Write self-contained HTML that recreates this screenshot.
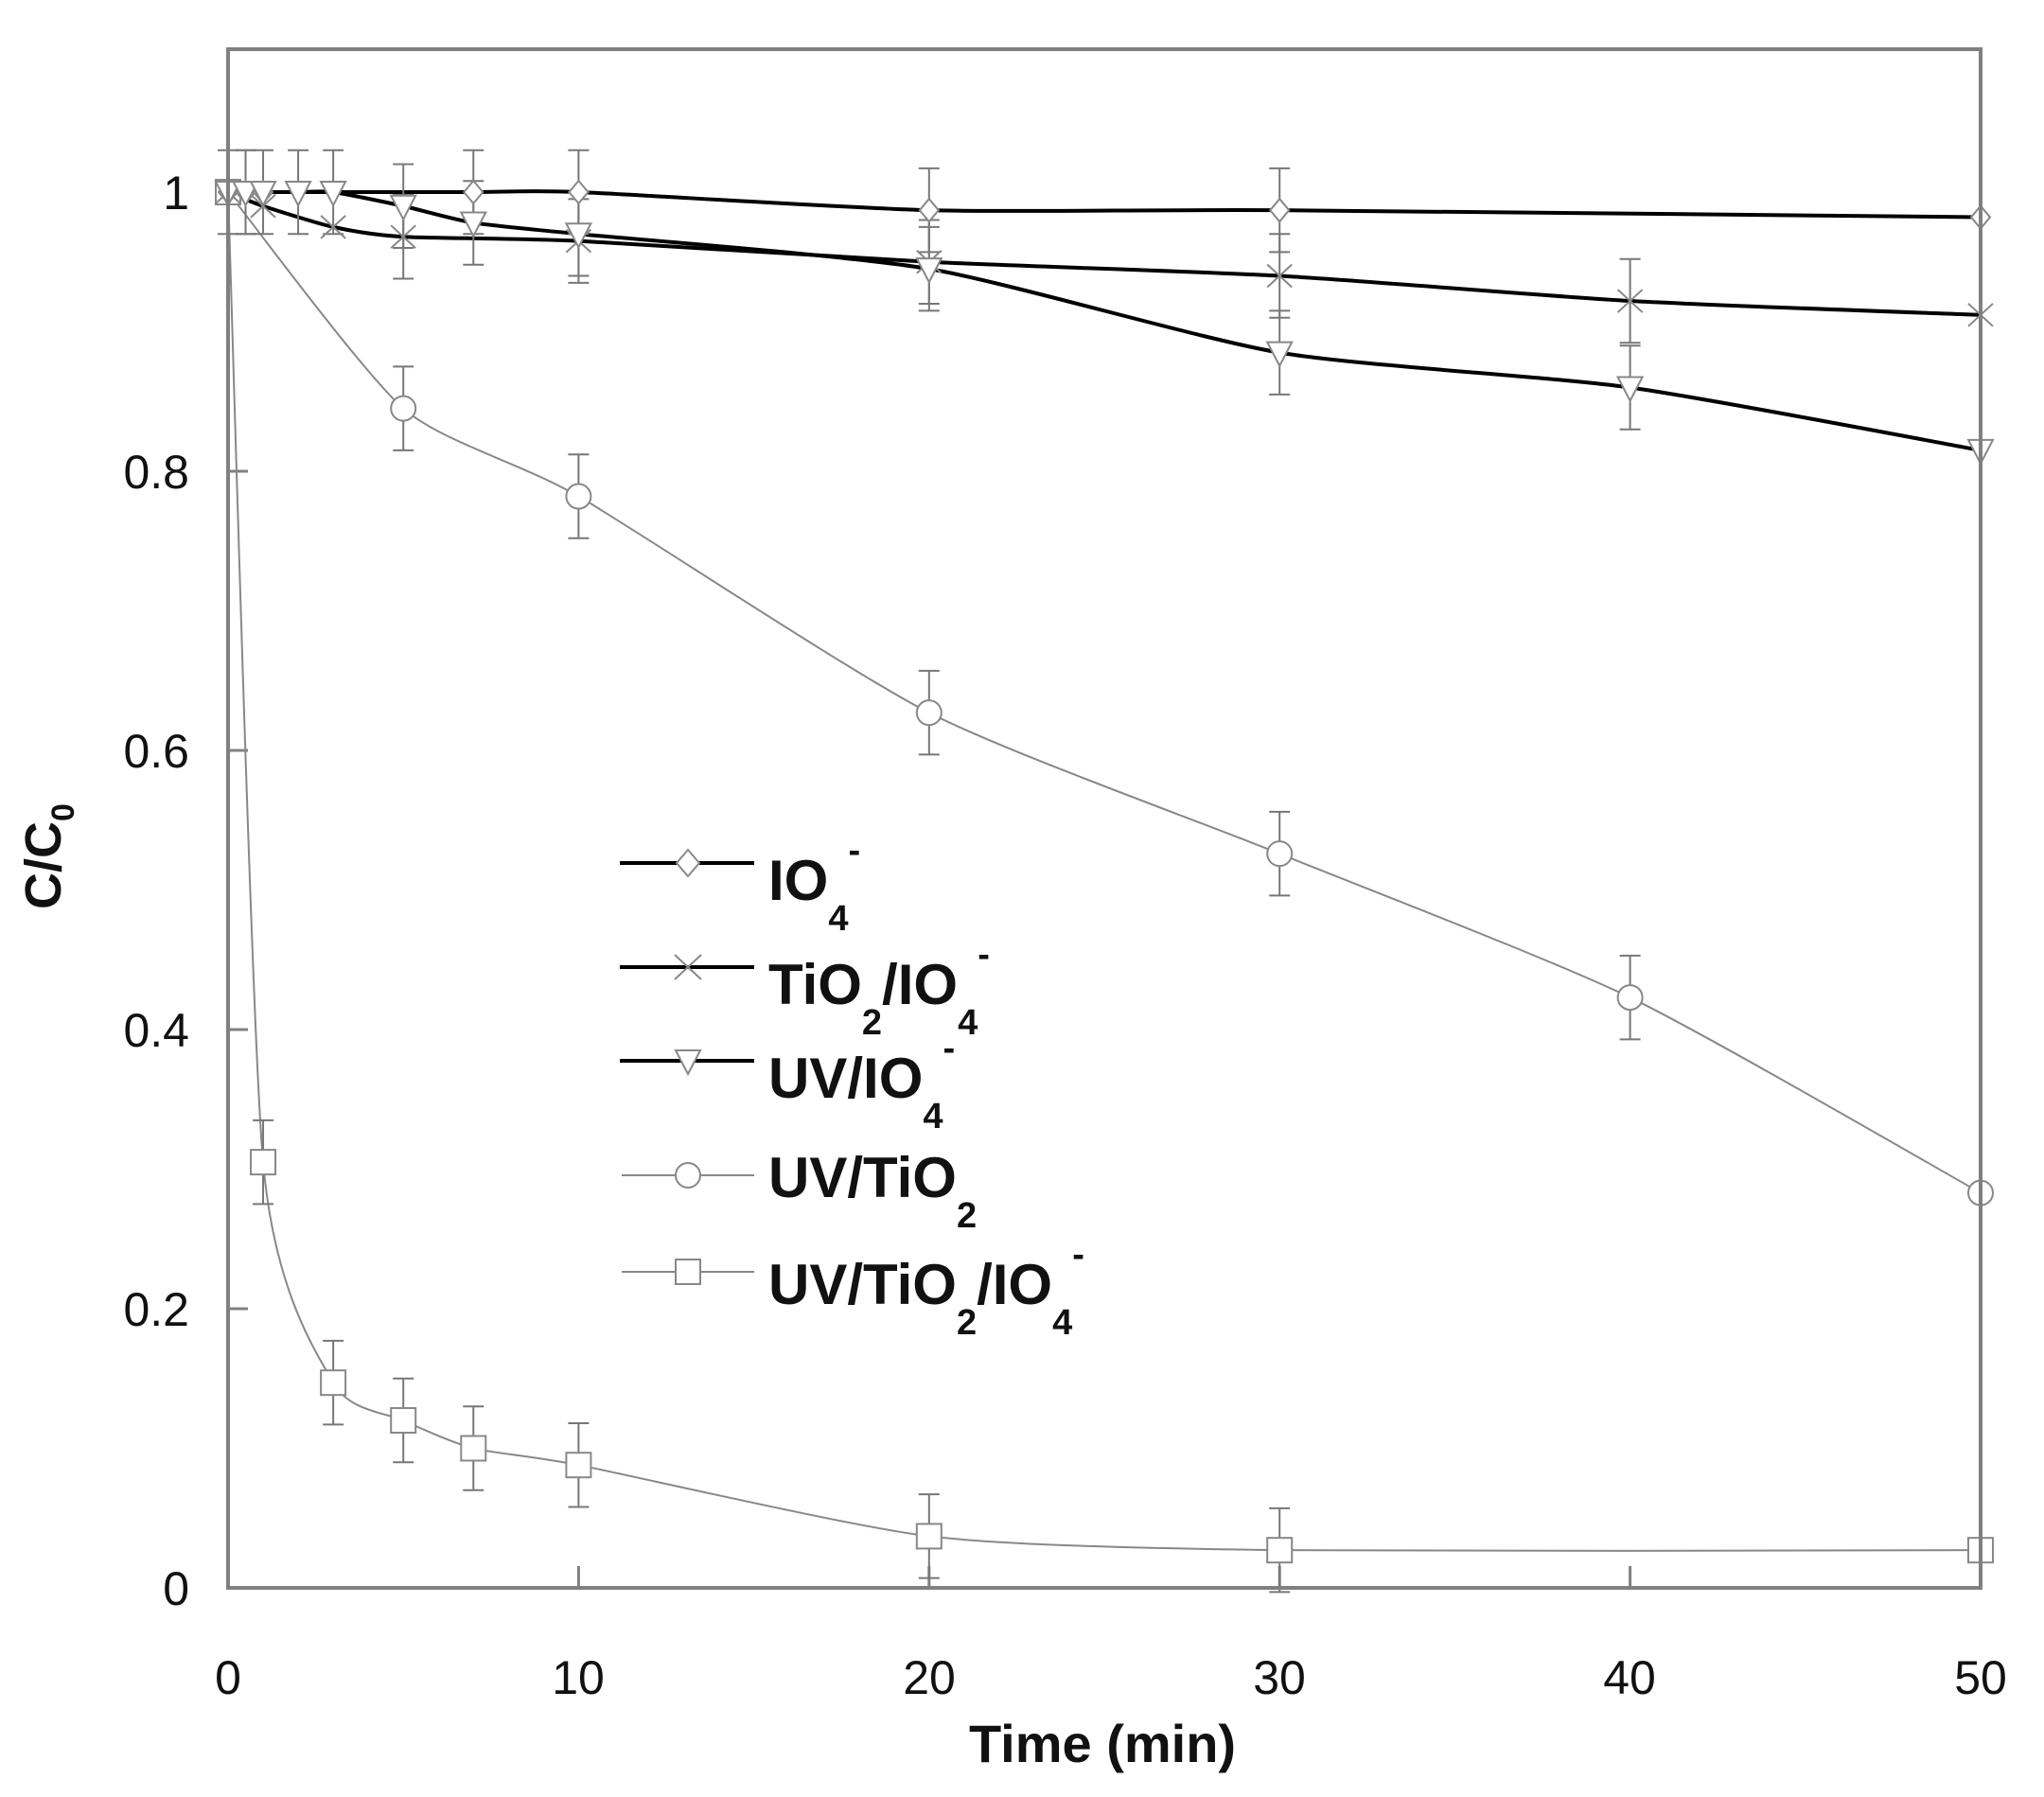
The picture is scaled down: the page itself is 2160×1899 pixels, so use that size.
<!DOCTYPE html>
<html><head><meta charset="utf-8"><style>
html,body{margin:0;padding:0;background:#fff;}
svg{display:block;}
text{font-family:"Liberation Sans",Arial,sans-serif;}
</style></head><body>
<svg id="s" width="2160" height="1899" viewBox="0 0 2160 1899" xmlns="http://www.w3.org/2000/svg">
<rect x="0" y="0" width="2160" height="1899" fill="#fff"/>
<g id="plot"></g>
<rect x="241" y="52" width="1852" height="1626" fill="none" stroke="#808080" stroke-width="4"/>
<g font-size="50" fill="#111" text-anchor="end">
<text x="200" y="1696">0</text>
<text x="200" y="1401">0.2</text>
<text x="200" y="1106">0.4</text>
<text x="200" y="811">0.6</text>
<text x="200" y="516">0.8</text>
<text x="200" y="221">1</text>
</g>
<g font-size="50" fill="#111" text-anchor="middle">
<text x="241" y="1790">0</text>
<text x="611" y="1790">10</text>
<text x="982" y="1790">20</text>
<text x="1352" y="1790">30</text>
<text x="1722" y="1790">40</text>
<text x="2093" y="1790">50</text>
</g>
<text x="1165" y="1862" font-size="56" font-weight="bold" text-anchor="middle" fill="#111">Time (min)</text>
<text transform="translate(64,905) rotate(-90)" font-size="54" font-weight="bold" text-anchor="middle" fill="#111">C/C<tspan font-size="34" dy="14">0</tspan></text>
<g font-size="60" font-weight="bold" fill="#111">
<line x1="655" y1="912" x2="797" y2="912" stroke="#000" stroke-width="4"/>
<path d="M727 898 L739 912 L727 926 L715 912 Z" fill="#fff" stroke="#888" stroke-width="2"/>
<text x="812" y="951">IO<tspan font-size="38" dy="32">4</tspan><tspan font-size="38" dy="-72">-</tspan></text>

<line x1="655" y1="1022" x2="797" y2="1022" stroke="#000" stroke-width="4"/>
<path d="M713 1009 L741 1035 M741 1009 L713 1035" stroke="#888" stroke-width="2"/>
<text x="812" y="1061">TiO<tspan font-size="38" dy="32">2</tspan><tspan dy="-32">/IO</tspan><tspan font-size="38" dy="32">4</tspan><tspan font-size="38" dy="-72">-</tspan></text>

<line x1="655" y1="1121" x2="797" y2="1121" stroke="#000" stroke-width="4"/>
<path d="M714 1110 L740 1110 L727 1135 Z" fill="#fff" stroke="#888" stroke-width="2"/>
<text x="812" y="1160">UV/IO<tspan font-size="38" dy="32">4</tspan><tspan font-size="38" dy="-72">-</tspan></text>

<line x1="657" y1="1242" x2="797" y2="1242" stroke="#888" stroke-width="2"/>
<circle cx="727" cy="1242" r="13" fill="#fff" stroke="#888" stroke-width="2"/>
<text x="812" y="1265">UV/TiO<tspan font-size="38" dy="32">2</tspan></text>

<line x1="657" y1="1344" x2="797" y2="1344" stroke="#888" stroke-width="2"/>
<rect x="714" y="1331" width="26" height="26" fill="#fff" stroke="#888" stroke-width="2"/>
<text x="812" y="1378">UV/TiO<tspan font-size="38" dy="32">2</tspan><tspan dy="-32">/IO</tspan><tspan font-size="38" dy="32">4</tspan><tspan font-size="38" dy="-72">-</tspan></text>
</g>
</svg>
<script>
(function(){
var X=function(t){return 241+t*37.04;},Y=function(v){return 1678-v*1475;};
var g=document.getElementById('plot'),h='';
[0.2,0.4,0.6,0.8,1].forEach(function(v){h+='<line x1="241" y1="'+Y(v)+'" x2="262" y2="'+Y(v)+'" stroke="#808080" stroke-width="3"/>';});
[10,20,30,40].forEach(function(t){h+='<line x1="'+X(t)+'" y1="1678" x2="'+X(t)+'" y2="1655" stroke="#808080" stroke-width="3"/>';});
function path(p){var pts=p.map(function(a){return [X(a[0]),Y(a[1])];});var d='M'+pts[0][0]+' '+pts[0][1];
var k=9;
for(var i=0;i<pts.length-1;i++){var p0=pts[i-1]||pts[i],p1=pts[i],p2=pts[i+1],p3=pts[i+2]||p2;
d+=' C'+(p1[0]+(p2[0]-p0[0])/k)+' '+(p1[1]+(p2[1]-p0[1])/k)+' '+(p2[0]-(p3[0]-p1[0])/k)+' '+(p2[1]-(p3[1]-p1[1])/k)+' '+p2[0]+' '+p2[1];}return d;}
function mk(type,x,y){var c='#888';
if(type=='d')return '<path d="M'+x+' '+(y-12)+' L'+(x+10)+' '+y+' L'+x+' '+(y+12)+' L'+(x-10)+' '+y+' Z" fill="#fff" stroke="'+c+'" stroke-width="2"/>';
if(type=='x')return '<path d="M'+(x-13)+' '+(y-12)+' L'+(x+13)+' '+(y+12)+' M'+(x+13)+' '+(y-12)+' L'+(x-13)+' '+(y+12)+'" stroke="'+c+'" stroke-width="2"/>';
if(type=='t')return '<path d="M'+(x-13)+' '+(y-11)+' L'+(x+13)+' '+(y-11)+' L'+x+' '+(y+14)+' Z" fill="#fff" stroke="'+c+'" stroke-width="2"/>';
if(type=='o')return '<circle cx="'+x+'" cy="'+y+'" r="13" fill="#fff" stroke="'+c+'" stroke-width="2"/>';
return '<rect x="'+(x-13)+'" y="'+(y-13)+'" width="26" height="26" fill="#fff" stroke="'+c+'" stroke-width="2"/>';}
function err(t,v,e){var x=X(t);return '<path d="M'+x+' '+Y(v+e)+' V'+Y(v-e)+' M'+(x-11)+' '+Y(v+e)+' h22 M'+(x-11)+' '+Y(v-e)+' h22" stroke="#777" stroke-width="2" fill="none"/>';}
var S=[
 {m:'o',w:2,c:'#888',p:[[0,1],[5,0.845],[10,0.782],[20,0.627],[30,0.526],[40,0.423],[50,0.283]],e:[0,1,1,1,1,1,0]},
 {m:'s',w:2,c:'#888',p:[[0,1],[1,0.305],[3,0.147],[5,0.12],[7,0.1],[10,0.088],[20,0.037],[30,0.027],[50,0.027]],e:[0,1,1,1,1,1,1,1,0]},
 {m:'d',w:4,c:'#000',p:[[0,1],[0.5,1],[1,1],[7,1],[10,1],[20,0.987],[30,0.987],[50,0.982]],e:[0,1,0,1,1,1,1,0]},
 {m:'x',w:4,c:'#000',p:[[0,1],[1,0.99],[3,0.975],[5,0.968],[10,0.965],[20,0.95],[30,0.94],[40,0.922],[50,0.912]],e:[0,0,0,1,1,1,1,1,0]},
 {m:'t',w:4,c:'#000',p:[[0,1],[0.5,1],[1,1],[2,1],[3,1],[5,0.99],[7,0.978],[10,0.97],[20,0.945],[30,0.885],[40,0.86],[50,0.815]],e:[1,1,1,1,1,1,1,1,1,1,1,0]}
];
S.forEach(function(s){h+='<path d="'+path(s.p)+'" fill="none" stroke="'+s.c+'" stroke-width="'+s.w+'"/>';});
S.forEach(function(s){s.p.forEach(function(a,i){if(s.e[i])h+=err(a[0],a[1],0.03);});});
S.forEach(function(s){s.p.forEach(function(a){h+=mk(s.m,X(a[0]),Y(a[1]));});});
g.innerHTML=h;
})();
</script>
</body></html>
